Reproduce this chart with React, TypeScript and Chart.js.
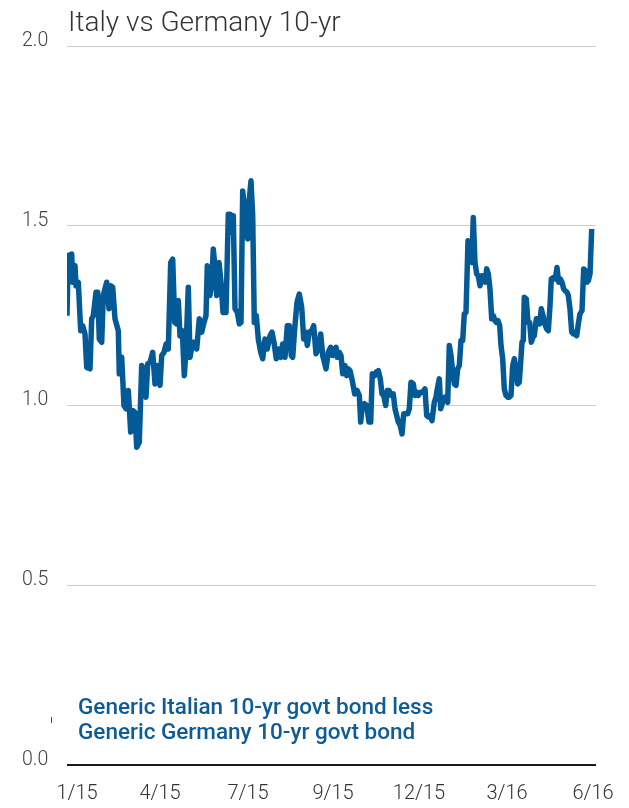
import React, { useEffect, useRef } from "react";
import { Chart, registerables } from "chart.js";

Chart.register(...registerables);

// Days since 1 Jan 2015 and the spread in percentage points
const dayOffsets: number[] = [
  0, 1.3, 4.7, 5.7, 8, 9, 11.3, 13.7, 15.7, 18, 19.7, 23, 24.7, 26.3, 29, 30.7, 32.3, 34.7, 36.3, 39.7,
  42, 43.7, 45.7, 48, 51.3, 52.3, 54.7, 57, 59, 61.3, 63.7, 65.7, 68, 69.7, 72.3, 74.7, 77, 79, 80.7, 83,
  85.7, 88, 90.3, 93, 94.7, 97, 99, 101.3, 103.7, 105.7, 107.7, 109.7, 111.3, 113, 115.3, 117.3, 119, 121.3, 123, 125.7,
  128, 129.7, 132.3, 134.7, 137, 139, 140.3, 143, 144.7, 146.3, 148, 149.7, 152, 154, 156, 159, 161.3, 163.3, 164.7, 166.3,
  168, 170.3, 172.3, 174, 175.7, 178.3, 180.7, 182.3, 184, 185.7, 187.3, 189.3, 191.3, 193.7, 195.7, 198, 200.3, 203, 205, 207,
  209.3, 211.3, 213.7, 215.7, 218, 220.3, 222.3, 224.3, 225.7, 227.7, 230, 232.3, 234.7, 236.7, 238.7, 240.3, 242.3, 244.7, 246.7, 249,
  251.3, 253.7, 255.7, 259, 261.3, 263.7, 265.7, 267, 269, 270.3, 272.3, 274, 275.7, 278, 279.7, 281.3, 283, 285.3, 287.7, 290,
  292.3, 293.7, 295.3, 297.3, 299.7, 302, 303.7, 305.3, 307.7, 309.3, 311.3, 313.3, 315, 316.7, 318.7, 320.3, 322, 324.3, 326.3, 328,
  329.7, 331.3, 333.3, 335, 336.7, 338.3, 340.7, 342.3, 344, 346.3, 348, 349.7, 351.3, 353.7, 355.7, 358, 359.7, 361.3, 363.3, 365,
  367.3, 369, 370.3, 372.3, 373.7, 375.7, 378, 380.7, 382.3, 384, 385.7, 387.3, 389, 390.7, 392.3, 394, 395.7, 397.3, 399, 401,
  402.7, 404.7, 406.3, 408, 409.7, 411.3, 413, 414.7, 416.3, 418, 419.7, 421.3, 423, 424.7, 426.3, 428, 429.3, 431, 432.7, 434,
  435.7, 437.3, 439, 440.7, 442.3, 444, 445.7, 447.3, 449, 450.7, 452.3, 453.3, 455, 456.3, 457.3, 459.3, 461, 462.7, 464.3, 466,
  467.3, 469.3, 471, 472.7, 474.3, 476, 477.3, 479.7, 481.3, 483, 484.3, 486.3, 488.3, 490, 491.7, 493.3, 495, 496.7, 498.3, 500,
  501.3, 503, 504.7, 506.3, 508, 509.7, 511.3, 513, 515, 516.7, 518.3, 520, 521.3, 523, 524.7, 525.3, 527.3,
];

const spreadValues: number[] = [
  1.25, 1.417, 1.421, 1.343, 1.389, 1.333, 1.343, 1.208, 1.222, 1.199, 1.106, 1.102, 1.241, 1.25, 1.315, 1.315, 1.185, 1.176, 1.306, 1.343,
  1.269, 1.333, 1.329, 1.241, 1.208, 1.088, 1.134, 1.0, 0.991, 1.042, 0.926, 0.986, 0.981, 0.884, 0.898, 1.111, 1.102, 1.023, 1.116, 1.12,
  1.148, 1.06, 1.111, 1.056, 1.139, 1.148, 1.171, 1.157, 1.398, 1.407, 1.231, 1.227, 1.292, 1.194, 1.208, 1.083, 1.157, 1.329, 1.134, 1.176,
  1.176, 1.157, 1.241, 1.204, 1.231, 1.25, 1.389, 1.306, 1.343, 1.435, 1.384, 1.306, 1.398, 1.343, 1.259, 1.259, 1.532, 1.532, 1.481, 1.528,
  1.269, 1.259, 1.227, 1.231, 1.597, 1.528, 1.463, 1.574, 1.625, 1.528, 1.231, 1.25, 1.185, 1.148, 1.13, 1.185, 1.157, 1.194, 1.204, 1.176,
  1.13, 1.157, 1.134, 1.171, 1.134, 1.222, 1.222, 1.139, 1.134, 1.213, 1.287, 1.31, 1.273, 1.185, 1.204, 1.167, 1.204, 1.208, 1.222, 1.144,
  1.157, 1.199, 1.139, 1.102, 1.148, 1.162, 1.139, 1.148, 1.162, 1.134, 1.148, 1.139, 1.088, 1.111, 1.083, 1.102, 1.097, 1.069, 1.032, 1.042,
  1.028, 0.954, 1.0, 1.005, 1.0, 0.954, 0.954, 1.088, 1.083, 1.093, 1.097, 1.074, 1.032, 1.028, 1.0, 1.042, 1.042, 1.028, 1.032, 0.991,
  0.972, 0.954, 0.944, 0.921, 0.977, 0.977, 0.977, 0.991, 1.065, 1.06, 1.028, 1.037, 1.028, 1.037, 1.037, 1.046, 0.972, 0.968, 0.972, 0.958,
  1.009, 1.023, 1.046, 1.074, 0.991, 1.009, 1.023, 1.009, 1.167, 1.139, 1.093, 1.06, 1.056, 1.102, 1.111, 1.181, 1.181, 1.255, 1.259, 1.458,
  1.454, 1.398, 1.523, 1.398, 1.366, 1.361, 1.333, 1.361, 1.347, 1.343, 1.38, 1.366, 1.324, 1.241, 1.25, 1.236, 1.231, 1.236, 1.222, 1.167,
  1.13, 1.046, 1.028, 1.023, 1.023, 1.028, 1.111, 1.13, 1.102, 1.06, 1.065, 1.106, 1.176, 1.181, 1.301, 1.296, 1.231, 1.231, 1.176, 1.19,
  1.194, 1.241, 1.241, 1.227, 1.269, 1.25, 1.231, 1.213, 1.208, 1.278, 1.352, 1.356, 1.352, 1.384, 1.343, 1.352, 1.343, 1.324, 1.319, 1.315,
  1.306, 1.269, 1.204, 1.199, 1.204, 1.194, 1.227, 1.255, 1.264, 1.38, 1.375, 1.343, 1.347, 1.366, 1.491,
];

const tickDays: number[] = [10, 93, 181, 266, 352, 440, 526];
const tickLabels: string[] = ["1/15", "4/15", "7/15", "9/15", "12/15", "3/16", "6/16"];
const yTicks: number[] = [0, 0.5, 1, 1.5, 2];

const chartTitle = "Italy vs Germany 10-yr";
const noteLines: string[] = ["Generic Italian 10-yr govt bond less", "Generic Germany 10-yr govt bond"];

const LINE_COLOR = "#045a96";
const FONT = "Roboto, 'Noto Sans', sans-serif";

export default function App() {
  const canvasRef = useRef<HTMLCanvasElement | null>(null);

  useEffect(() => {
    const canvas = canvasRef.current;
    if (!canvas) return;
    const n = Math.min(dayOffsets.length, spreadValues.length);
    const points = [] as { x: number; y: number }[];
    for (let i = 0; i < n; i++) points.push({ x: dayOffsets[i], y: spreadValues[i] });

    const textPlugin = {
      id: "textPlugin",
      afterDraw(chart: any) {
        const ctx = chart.ctx;
        const area = chart.chartArea;
        ctx.save();
        ctx.fillStyle = "#333333";
        ctx.font = `300 28px ${FONT}`;
        ctx.textAlign = "left";
        ctx.textBaseline = "alphabetic";
        ctx.fillText(chartTitle, area.left + 1, 23);

        ctx.fillStyle = "#0d5c97";
        ctx.font = `500 22.5px ${FONT}`;
        ctx.fillText(noteLines[0], area.left + 11, 706);
        ctx.fillText(noteLines[1], area.left + 11, 731);

        ctx.strokeStyle = LINE_COLOR;
        ctx.lineWidth = 1;
        ctx.beginPath();
        ctx.moveTo(43.5, 709);
        ctx.lineTo(43.5, 715);
        ctx.stroke();
        ctx.restore();
      },
    };

    const chart = new Chart(canvas, {
      type: "line",
      data: {
        datasets: [
          {
            data: points,
            borderColor: LINE_COLOR,
            borderWidth: 5.5,
            pointRadius: 0,
            tension: 0,
            borderJoinStyle: "round",
            fill: false,
          },
        ],
      },
      options: {
        animation: false,
        responsive: false,
        maintainAspectRatio: false,
        layout: { padding: { top: 38, left: 14, right: 25, bottom: 0 } },
        plugins: {
          legend: { display: false },
          tooltip: { enabled: false },
          title: { display: false },
        },
        scales: {
          x: {
            type: "linear",
            min: 0,
            max: 529,
            grid: { display: false, drawTicks: false },
            border: { display: false },
            afterBuildTicks: (scale: any) => {
              scale.ticks = tickDays.map((v) => ({ value: v }));
            },
            afterFit: (scale: any) => {
              scale.height = 35;
              scale.paddingLeft = 0;
              scale.paddingRight = 0;
            },
            ticks: {
              autoSkip: false,
              maxRotation: 0,
              padding: 17,
              color: "#333333",
              font: { family: FONT, size: 20, weight: "300" },
              callback: (_v: any, i: number) => tickLabels[i],
            },
          },
          y: {
            min: 0,
            max: 2,
            afterBuildTicks: (scale: any) => {
              scale.ticks = yTicks.map((v) => ({ value: v }));
            },
            afterFit: (scale: any) => {
              scale.width = 45;
              scale.paddingTop = 0;
              scale.paddingBottom = 0;
            },
            border: { display: false },
            grid: {
              drawTicks: false,
              color: (ctx: any) => (ctx.tick && ctx.tick.value === 0 ? "#1a1a1a" : "#cccccc"),
              lineWidth: (ctx: any) => (ctx.tick && ctx.tick.value === 0 ? 2 : 1),
            },
            ticks: {
              crossAlign: "far",
              labelOffset: -5,
              padding: 0,
              color: "#444444",
              font: { family: FONT, size: 19.5, weight: "300" },
              callback: (v: any) => Number(v).toFixed(1),
            },
          },
        },
      },
      plugins: [textPlugin],
    } as any);

    return () => chart.destroy();
  }, []);

  return (
    <div style={{ width: 613, height: 792, position: "relative" }}>
      <canvas ref={canvasRef} width={613} height={792} style={{ display: "block", width: 613, height: 792 }} />
    </div>
  );
}
